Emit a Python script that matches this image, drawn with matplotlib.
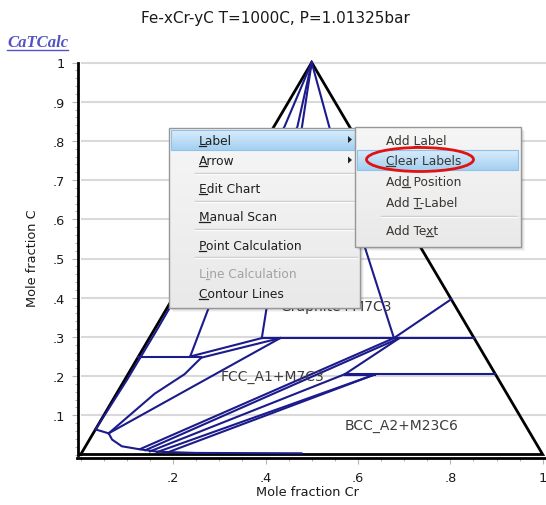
import numpy as np
import matplotlib
matplotlib.use("Agg")
import matplotlib.pyplot as plt
from matplotlib.patches import Rectangle, Ellipse, Polygon
from matplotlib.colors import LinearSegmentedColormap
from matplotlib.font_manager import FontProperties
from matplotlib.ticker import MultipleLocator, FixedLocator, FixedFormatter

# ---------------- data ----------------
title = "Fe-xCr-yC T=1000C, P=1.01325bar"
x_label = "Mole fraction Cr"
y_label = "Mole fraction C"
x_ticks = [0.2, 0.4, 0.6, 0.8, 1.0]
x_tick_labels = [".2", ".4", ".6", ".8", "1"]
y_ticks = [0.1, 0.2, 0.3, 0.4, 0.5, 0.6, 0.7, 0.8, 0.9, 1.0]
y_tick_labels = [".1", ".2", ".3", ".4", ".5", ".6", ".7", ".8", ".9", "1"]

triangle = [(0.0, 0.0), (0.5, 1.0), (1.0, 0.0), (0.0, 0.0)]

# phase boundaries (plot coordinates)
edge_fe_c = [(0.5, 1.0), (0.441, 0.836), (0.315, 0.6), (0.193, 0.375),
             (0.166, 0.32), (0.100, 0.19), (0.032, 0.064)]
apex_to_pa = [(0.5, 1.0), (0.469, 0.836), (0.276, 0.371), (0.237, 0.250)]
apex_to_pc = [(0.5, 1.0), (0.479, 0.836), (0.402, 0.371), (0.392, 0.297)]
apex_to_pe = [(0.5, 1.0), (0.538, 0.836), (0.615, 0.529), (0.678, 0.297)]
edge_to_pe = [(0.802, 0.396), (0.678, 0.297)]
tie_030 = [(0.392, 0.297), (0.8515, 0.297)]
tie_025 = [(0.124, 0.248), (0.261, 0.248)]
tie_021 = [(0.572, 0.205), (0.8975, 0.205)]
tie_021b = [(0.572, 0.203), (0.6365, 0.203)]
pa_to_pc = [(0.237, 0.250), (0.392, 0.297)]
pb_to_pd = [(0.261, 0.247), (0.432, 0.297)]
t1_to_b = [(0.032, 0.064), (0.0605, 0.054)]
b_to_pb = [(0.0605, 0.054), (0.16, 0.155), (0.225, 0.205), (0.261, 0.247)]
b_to_pd = [(0.0605, 0.054), (0.432, 0.297)]
b_curve = [(0.0605, 0.054), (0.068, 0.038), (0.089, 0.021), (0.129, 0.013),
           (0.168, 0.007), (0.25, 0.004), (0.478, 0.003)]
fan_1 = [(0.129, 0.014), (0.678, 0.297)]
fan_2 = [(0.140, 0.011), (0.690, 0.297)]
fan_3 = [(0.150, 0.008), (0.572, 0.205)]
fan_4 = [(0.165, 0.006), (0.6365, 0.204)]
fan_5 = [(0.185, 0.004), (0.6365, 0.204)]
pf_to_qa = [(0.690, 0.297), (0.572, 0.205)]

boundaries = [edge_fe_c, apex_to_pa, apex_to_pc, apex_to_pe, edge_to_pe,
              tie_030, tie_025, tie_021, tie_021b, pa_to_pc, pb_to_pd,
              t1_to_b, b_to_pb, b_to_pd, b_curve,
              fan_1, fan_2, fan_3, fan_4, fan_5, pf_to_qa]

region_labels = ["Graphite+M7C3", "FCC_A1+M7C3", "BCC_A2+M23C6"]
region_label_xy = [(0.553, 0.379), (0.416, 0.200), (0.694, 0.076)]

main_menu_items = ["Label", "Arrow", "Edit Chart", "Manual Scan",
                   "Point Calculation", "Line Calculation", "Contour Lines"]
main_menu_keys = [0, 0, 0, 0, 0, 1, 0]
sub_menu_items = ["Add Label", "Clear Labels", "Add Position", "Add T-Label", "Add Text"]
sub_menu_keys = [4, 0, 2, 4, 6]

# ---------------- figure ----------------
W, H = 546, 506
fig = plt.figure(figsize=(W / 100, H / 100), dpi=100)
fig.patch.set_facecolor("white")

ax = fig.add_axes([80.7 / W, 1 - 455.5 / H, 462 / W, 392 / H])
ax.set_xlim(0, 1)
ax.set_ylim(0, 1)
ax.patch.set_alpha(0)

for s in ("top", "right"):
    ax.spines[s].set_visible(False)
for s in ("left", "bottom"):
    ax.spines[s].set_position(("outward", 2.2))
    ax.spines[s].set_linewidth(2.0)
    ax.spines[s].set_color("black")
ax.spines["bottom"].set_bounds(-0.008, 1.01)

ax.xaxis.set_major_locator(FixedLocator(x_ticks))
ax.xaxis.set_major_formatter(FixedFormatter(x_tick_labels))
ax.xaxis.set_minor_locator(MultipleLocator(0.05))
ax.yaxis.set_major_locator(FixedLocator(y_ticks))
ax.yaxis.set_major_formatter(FixedFormatter(y_tick_labels))
ax.yaxis.set_minor_locator(MultipleLocator(0.02))
ax.tick_params(which="both", direction="out", color="#b4b4b4", width=0.8,
               labelsize=9.3, labelcolor="#1a1a1a")
ax.tick_params(which="major", length=4)
ax.tick_params(which="minor", length=2.5)
ax.tick_params(axis="x", which="major", pad=6)
ax.tick_params(axis="y", which="major", pad=5)

ax.hlines(y_ticks, 0, 1.008, colors="#d9d9d9", linewidth=1.5, zorder=0, clip_on=False)

tx, ty = zip(*triangle)
ax.plot(tx, ty, color="black", lw=2.0, zorder=2, clip_on=False, solid_joinstyle="miter")
for b in boundaries:
    bx, by = zip(*b)
    ax.plot(bx, by, color="#1b1b8c", lw=1.5, zorder=3, clip_on=False)

for txt, (lx, ly) in zip(region_labels, region_label_xy):
    ax.text(lx, ly, txt, ha="center", va="center", fontsize=10, color="#3c3c3c", zorder=4)

fig.text(275 / W, 1 - 18 / H, title, ha="center", va="center", fontsize=11, color="#1a1a1a")
fig.text(307 / W, 1 - 493 / H, x_label, ha="center", va="center", fontsize=9.3, color="#1a1a1a")
fig.text(32.5 / W, 1 - 258 / H, y_label, ha="center", va="center", rotation=90,
         fontsize=9.3, color="#1a1a1a")

# ---------------- overlay in pixel coordinates ----------------
ov = fig.add_axes([0, 0, 1, 1])
ov.set_zorder(10)
ov.patch.set_alpha(0)
ov.axis("off")

brand_fp = FontProperties(family="Liberation Serif", style="italic", weight="bold", size=12)
ov.text(7, 43, "CaTCalc", fontproperties=brand_fp, color="#5252c4", ha="left", va="center")
ov.plot([7, 68], [50.8, 50.8], color="#5252c4", lw=1.0)

menu_fp = FontProperties(family="DejaVu Sans", size=8.8)
renderer = fig.canvas.get_renderer()


def text_w(s):
    w, h, d = renderer.get_text_width_height_descent(s, menu_fp, ismath=False)
    return w


def gradient(x0, y0, x1, y1, c_top, c_bot, z):
    cmap = LinearSegmentedColormap.from_list("g", [c_top, c_bot])
    g = np.linspace(0, 1, 64).reshape(-1, 1)
    ov.imshow(g, extent=(x0, x1, y1, y0), origin="upper", cmap=cmap,
              aspect="auto", interpolation="bilinear", zorder=z)


def shadow(x0, y0, x1, y1, z):
    for k, a in ((4, 0.04), (3, 0.05), (2, 0.06), (1, 0.07)):
        ov.add_patch(Rectangle((x0 + k, y0 + k), x1 - x0, y1 - y0,
                               facecolor="black", edgecolor="none", alpha=a, zorder=z))


def item(x, y, s, key, color, z):
    ov.text(x, y + 4, s, fontproperties=menu_fp, color=color, ha="left",
            va="baseline", zorder=z)
    a = x + text_w(s[:key + 1]) - text_w(s[key])
    b = x + text_w(s[:key + 1])
    ov.plot([a, b], [y + 6, y + 6], color=color, lw=0.9, zorder=z)


def separator(x0, x1, y, z):
    ov.plot([x0, x1], [y, y], color="#c6c6c6", lw=1.0, zorder=z)
    ov.plot([x0, x1], [y + 1, y + 1], color="#fbfbfb", lw=1.0, zorder=z)


def arrow(x, y, z):
    ov.add_patch(Polygon([(x, y - 3.5), (x, y + 3.5), (x + 4, y)], closed=True,
                         facecolor="#202020", edgecolor="none", zorder=z))


# main menu
mx0, my0, mx1, my1 = 169, 129, 360, 309
shadow(mx0, my0, mx1, my1, 5)
gradient(mx0, my0, mx1, my1, "#f6f6f6", "#e9e9e9", 6)
ov.add_patch(Rectangle((mx0, my0), mx1 - mx0, my1 - my0, facecolor="none",
                       edgecolor="#979797", lw=1.0, zorder=7))
gradient(171, 130.5, 358, 150.5, "#d9ecfb", "#a4d0f1", 7)
ov.add_patch(Rectangle((171, 130.5), 187, 20, facecolor="none",
                       edgecolor="#8ec2ea", lw=0.8, zorder=7))
main_rows = [140.5, 161, 189, 217, 245.5, 273.5, 294]
for s, k, yy in zip(main_menu_items, main_menu_keys, main_rows):
    col = "#a3a3a3" if s == "Line Calculation" else "#1e1e1e"
    item(199, yy, s, k, col, 8)
for yy in (173.5, 201.5, 229.5, 257.5):
    separator(195, 357, yy, 7)
arrow(348, 140.5, 8)
arrow(348, 161, 8)

# submenu
sx0, sy0, sx1, sy1 = 355, 128, 521, 248
shadow(sx0, sy0, sx1, sy1, 8.2)
gradient(sx0, sy0, sx1, sy1, "#f6f6f6", "#e9e9e9", 8.4)
ov.add_patch(Rectangle((sx0, sy0), sx1 - sx0, sy1 - sy0, facecolor="none",
                       edgecolor="#979797", lw=1.0, zorder=8.6))
gradient(357, 150.5, 518, 170.5, "#d9ecfb", "#a4d0f1", 8.6)
ov.add_patch(Rectangle((357, 150.5), 161, 20, facecolor="none",
                       edgecolor="#8ec2ea", lw=0.8, zorder=8.7))
sub_rows = [140.5, 160.5, 182, 203, 231]
for s, k, yy in zip(sub_menu_items, sub_menu_keys, sub_rows):
    item(386, yy, s, k, "#3a3632", 9)
separator(381, 517, 216.5, 9)

ov.add_patch(Ellipse((420, 160.5), 107, 24, facecolor="none", edgecolor="#e01212",
                     lw=2.0, zorder=9.5))

ov.set_xlim(0, W)
ov.set_ylim(H, 0)

fig.savefig("out.png", dpi=100, facecolor="white")
